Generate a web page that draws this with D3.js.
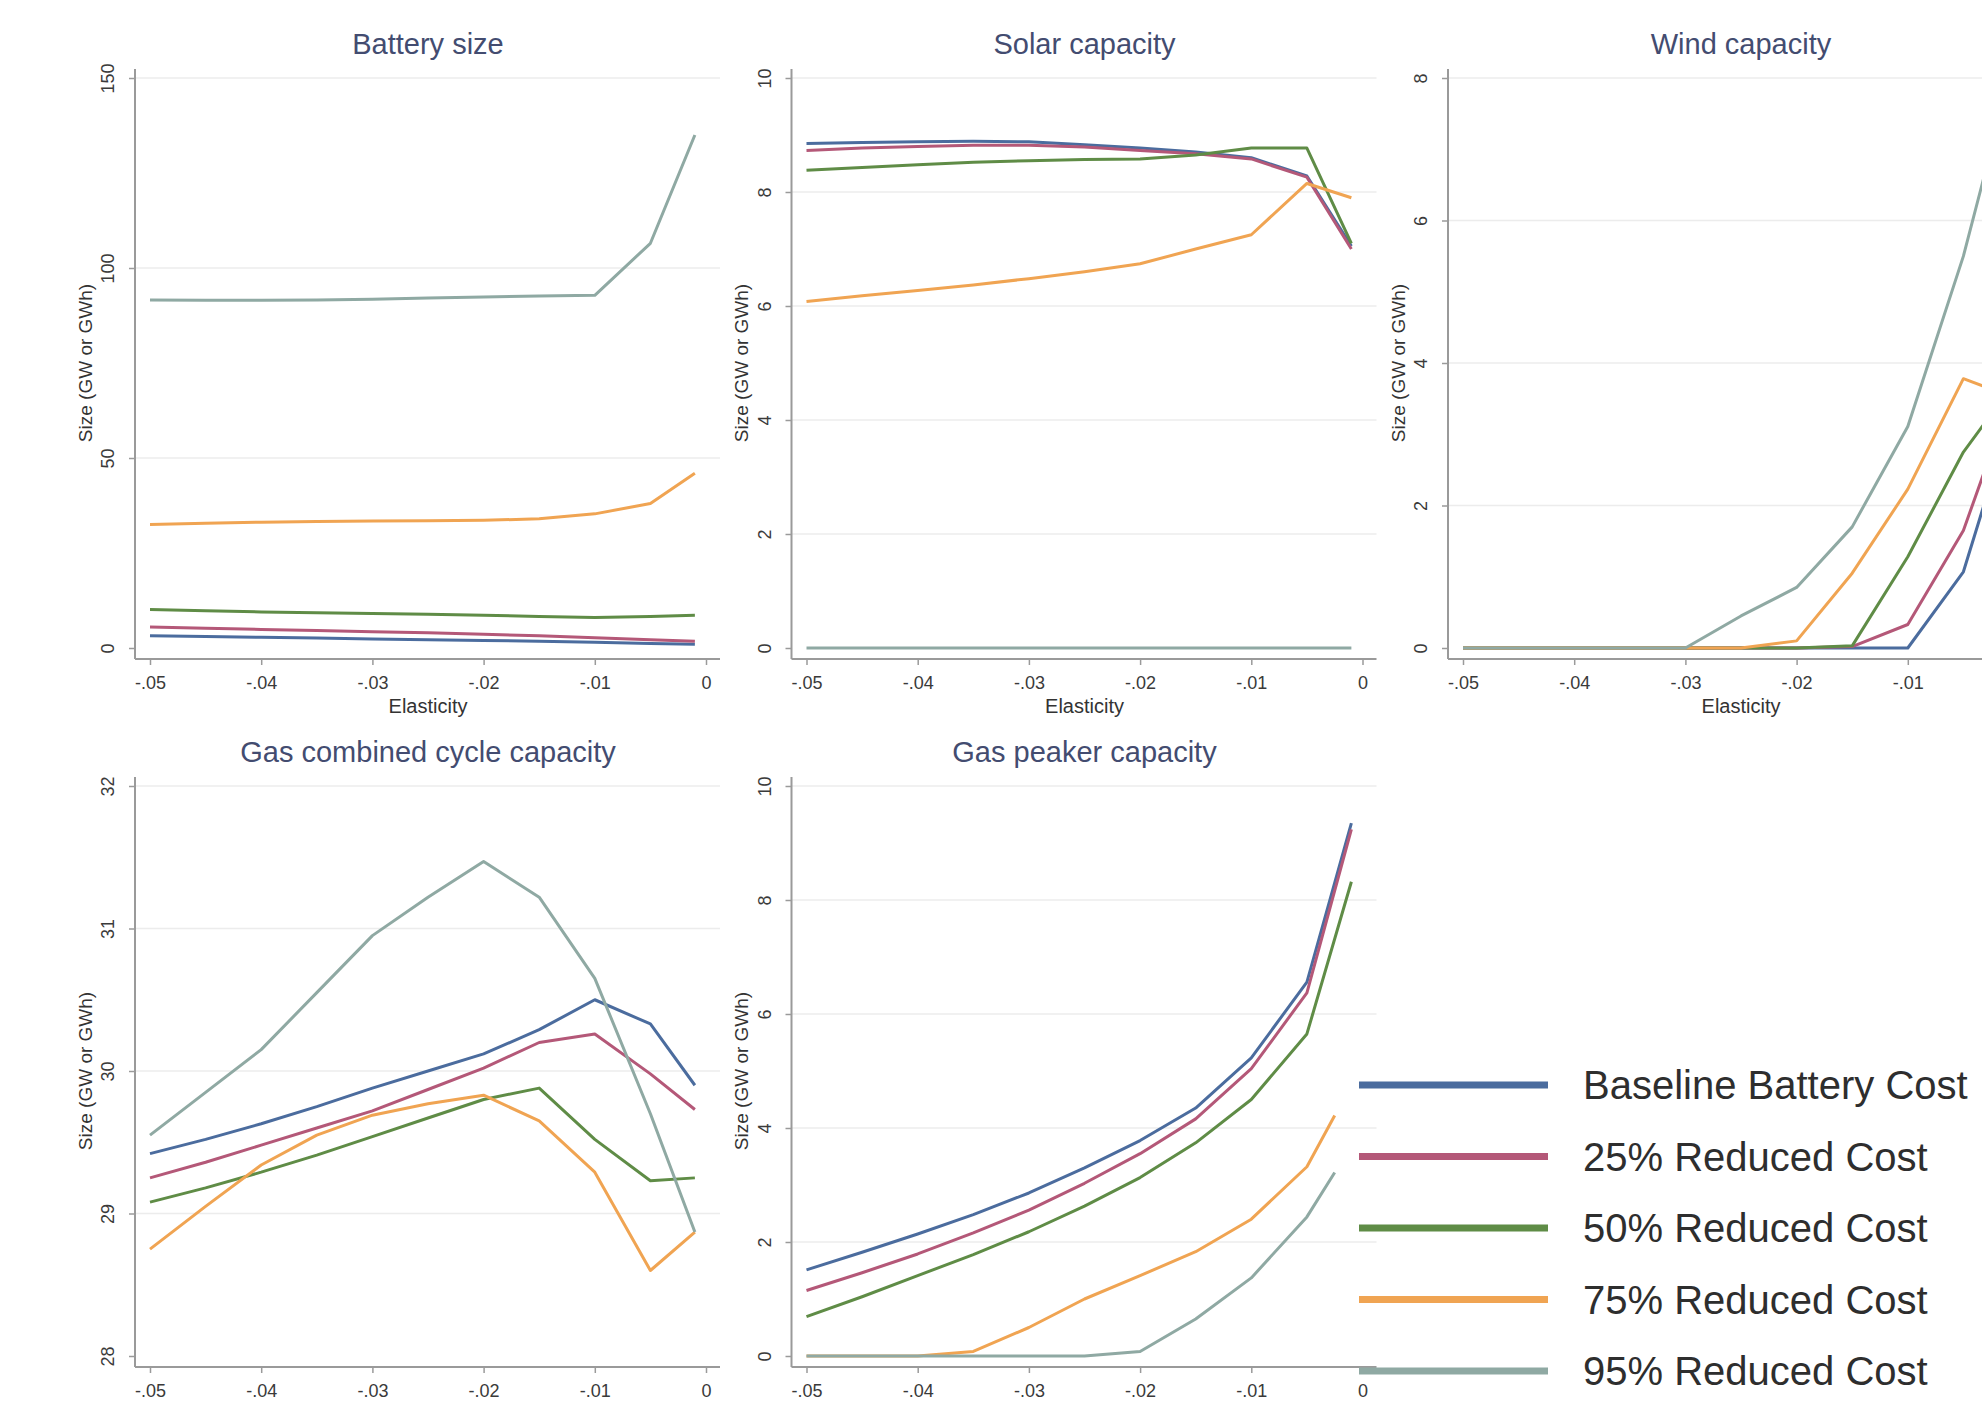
<!DOCTYPE html>
<html>
<head>
<meta charset="utf-8">
<script src="https://cdn.jsdelivr.net/npm/d3@7"></script>
<style>
  body { margin: 0; background: #fff; }
  svg { display: block; }
  text { font-family: "Liberation Sans", Arial, sans-serif; }
</style>
</head>
<body>
<svg id="chart"></svg>
<script>
// elasticity values used on the x axis of every panel
let elasticity = [-0.05, -0.045, -0.04, -0.035, -0.03, -0.025, -0.02, -0.015, -0.01, -0.005, -0.001];
// the 75% and 95% peaker runs stop a bit earlier
let elasticityShort = [-0.05, -0.045, -0.04, -0.035, -0.03, -0.025, -0.02, -0.015, -0.01, -0.005, -0.0025];

let seriesNames = ['Baseline Battery Cost', '25% Reduced Cost', '50% Reduced Cost', '75% Reduced Cost', '95% Reduced Cost'];
let seriesColors = ['#4b6c9e', '#b45878', '#5f8c46', '#f0a452', '#8fa9a3'];

let xTicks = [-0.05, -0.04, -0.03, -0.02, -0.01, 0];
let xTickLabels = ['-.05', '-.04', '-.03', '-.02', '-.01', '0'];

// values, one row per series (baseline, 25%, 50%, 75%, 95%)
let batterySize = [
  [3.2, 3.0, 2.8, 2.6, 2.4, 2.2, 2.0, 1.8, 1.5, 1.2, 1.0],
  [5.5, 5.2, 4.9, 4.6, 4.3, 4.0, 3.6, 3.2, 2.7, 2.2, 1.8],
  [10.1, 9.8, 9.5, 9.3, 9.1, 8.9, 8.6, 8.3, 8.0, 8.3, 8.6],
  [32.5, 32.8, 33.1, 33.3, 33.4, 33.5, 33.6, 34.0, 35.3, 38.0, 46.0],
  [91.6, 91.5, 91.5, 91.6, 91.8, 92.1, 92.4, 92.6, 92.8, 106.5, 135.0]
];
let solarCapacity = [
  [8.85, 8.87, 8.88, 8.89, 8.88, 8.83, 8.77, 8.70, 8.60, 8.28, 7.05],
  [8.73, 8.77, 8.80, 8.82, 8.82, 8.79, 8.73, 8.67, 8.58, 8.26, 7.0],
  [8.38, 8.43, 8.48, 8.52, 8.55, 8.57, 8.58, 8.65, 8.77, 8.77, 7.1],
  [6.08, 6.18, 6.27, 6.37, 6.48, 6.6, 6.74, 7.0, 7.25, 8.15, 7.9],
  [0, 0, 0, 0, 0, 0, 0, 0, 0, 0, 0]
];
let windCapacity = [
  [0, 0, 0, 0, 0, 0, 0, 0, 0, 1.07, 3.1],
  [0, 0, 0, 0, 0, 0, 0, 0.02, 0.33, 1.65, 3.4],
  [0, 0, 0, 0, 0, 0, 0, 0.03, 1.28, 2.75, 3.6],
  [0, 0, 0, 0, 0, 0, 0.1, 1.05, 2.23, 3.78, 3.55],
  [0, 0, 0, 0, 0, 0.45, 0.85, 1.7, 3.11, 5.5, 7.9]
];
let gasCombinedCycle = [
  [29.42, 29.52, 29.63, 29.75, 29.88, 30.0, 30.12, 30.29, 30.5, 30.33, 29.9],
  [29.25, 29.36, 29.48, 29.6, 29.72, 29.87, 30.02, 30.2, 30.26, 29.98, 29.73],
  [29.08, 29.18, 29.29, 29.41, 29.54, 29.67, 29.8, 29.88, 29.52, 29.23, 29.25],
  [28.75, 29.05, 29.34, 29.55, 29.69, 29.77, 29.83, 29.65, 29.29, 28.6, 28.87],
  [29.55, 29.85, 30.15, 30.55, 30.95, 31.22, 31.47, 31.22, 30.65, 29.7, 28.87]
];
let gasPeaker = [
  [1.51, 1.82, 2.14, 2.48, 2.86, 3.3, 3.78, 4.35, 5.23, 6.56, 9.35],
  [1.15, 1.46, 1.79, 2.16, 2.56, 3.03, 3.55, 4.16, 5.04, 6.37, 9.24],
  [0.69, 1.04, 1.41, 1.78, 2.18, 2.63, 3.13, 3.74, 4.5, 5.65, 8.32],
  [0, 0, 0, 0.08, 0.5, 1.0, 1.41, 1.83, 2.4, 3.32, 4.22],
  [0, 0, 0, 0, 0, 0, 0.08, 0.65, 1.37, 2.44, 3.22]
];

let batteryTicks = [0, 50, 100, 150];
let solarTicks = [0, 2, 4, 6, 8, 10];
let windTicks = [0, 2, 4, 6, 8];
let gasCCTicks = [28, 29, 30, 31, 32];
let peakerTicks = [0, 2, 4, 6, 8, 10];

// layout (Stata style graph combine, 3 columns, cropped on the right and bottom)
let config = { svg: {}, cell: {}, plot: {} };
config.svg.width = 1982;
config.svg.height = 1405;
config.cell.x0 = 135;      // y axis line of first column
config.cell.y0 = 78;       // top tick of first row
config.cell.dx = 656.5;
config.cell.dy = 708;
config.plot.width = 585;
config.plot.height = 570;  // top tick to bottom tick
config.plot.xStart = 15;
config.plot.xEnd = 571;

let panels = [
  { title: 'Battery size', values: batterySize, ticks: batteryTicks, col: 0, row: 0 },
  { title: 'Solar capacity', values: solarCapacity, ticks: solarTicks, col: 1, row: 0 },
  { title: 'Wind capacity', values: windCapacity, ticks: windTicks, col: 2, row: 0 },
  { title: 'Gas combined cycle capacity', values: gasCombinedCycle, ticks: gasCCTicks, col: 0, row: 1 },
  { title: 'Gas peaker capacity', values: gasPeaker, ticks: peakerTicks, col: 1, row: 1, shortFrom: 3 }
];

function translate(x, y) {
  return 'translate(' + x + ',' + y + ')';
}

let svg = d3.select('#chart')
  .attr('width', config.svg.width)
  .attr('height', config.svg.height);

svg.append('rect')
  .attr('width', config.svg.width)
  .attr('height', config.svg.height)
  .attr('fill', '#ffffff');

panels.forEach(drawPanel);
drawLegend();

function drawPanel(p) {
  let w = config.plot.width;
  let h = config.plot.height;
  let left = config.cell.x0 + p.col * config.cell.dx;
  let g = svg.append('g')
    .attr('transform', translate(left, config.cell.y0 + p.row * config.cell.dy));

  let x = d3.scaleLinear().domain([-0.05, 0]).range([config.plot.xStart, config.plot.xEnd]);
  let y = d3.scaleLinear().domain(d3.extent(p.ticks)).range([h, 0]);

  // grid lines
  g.append('g')
    .selectAll('line')
    .data(p.ticks.slice(1))
    .enter().append('line')
    .attr('x1', 0).attr('x2', w)
    .attr('y1', d => y(d)).attr('y2', d => y(d))
    .attr('stroke', '#ececec')
    .attr('stroke-width', 1.5);

  // axis lines span the whole plot region
  let axisColor = '#9a9a9a';
  g.append('line')
    .attr('x1', 0).attr('x2', 0)
    .attr('y1', -9).attr('y2', h + 11)
    .attr('stroke', axisColor).attr('stroke-width', 2);
  g.append('line')
    .attr('x1', 0).attr('x2', w)
    .attr('y1', h + 11).attr('y2', h + 11)
    .attr('stroke', axisColor).attr('stroke-width', 2);

  // y axis ticks, labels rotated like Stata
  let yAxis = d3.axisLeft(y).tickValues(p.ticks).tickSize(6).tickSizeOuter(0).tickFormat(d3.format('d'));
  let yGroup = g.append('g').call(yAxis);
  yGroup.select('.domain').remove();
  yGroup.selectAll('line').attr('stroke', axisColor).attr('stroke-width', 1.5);
  yGroup.selectAll('text')
    .attr('x', null).attr('dy', null)
    .attr('transform', 'translate(-27,0) rotate(-90)')
    .attr('text-anchor', 'middle')
    .attr('dominant-baseline', 'central')
    .attr('fill', '#3a3a3a')
    .style('font-size', '18px');

  // x axis ticks (skip the ones that fall past the right edge of the picture)
  let visibleTicks = xTicks.filter(t => left + x(t) + 12 < config.svg.width);
  let xAxis = d3.axisBottom(x).tickValues(visibleTicks).tickSize(6).tickSizeOuter(0)
    .tickFormat(d => xTickLabels[xTicks.indexOf(d)]);
  let xGroup = g.append('g').attr('transform', translate(0, h + 11)).call(xAxis);
  xGroup.select('.domain').remove();
  xGroup.selectAll('line').attr('stroke', axisColor).attr('stroke-width', 1.5);
  xGroup.selectAll('text')
    .attr('y', 24).attr('dy', '0.35em')
    .attr('fill', '#3a3a3a')
    .style('font-size', '18px');

  // axis titles
  g.append('text')
    .attr('transform', translate(-50, h / 2) + ' rotate(-90)')
    .attr('text-anchor', 'middle')
    .attr('dominant-baseline', 'central')
    .attr('fill', '#333')
    .style('font-size', '19px')
    .text('Size (GW or GWh)');

  g.append('text')
    .attr('x', (config.plot.xStart + config.plot.xEnd) / 2)
    .attr('y', h + 58)
    .attr('text-anchor', 'middle')
    .attr('dominant-baseline', 'central')
    .attr('fill', '#333')
    .style('font-size', '20px')
    .text('Elasticity');

  // panel title
  g.append('text')
    .attr('x', 293)
    .attr('y', -34)
    .attr('text-anchor', 'middle')
    .attr('dominant-baseline', 'central')
    .attr('fill', '#434c70')
    .style('font-size', '29px')
    .text(p.title);

  // series lines
  let line = d3.line()
    .x(d => x(d.x))
    .y(d => y(d.y));

  p.values.forEach((vals, i) => {
    let xs = (p.shortFrom !== undefined && i >= p.shortFrom) ? elasticityShort : elasticity;
    let pts = vals.map((v, k) => ({ x: xs[k], y: v }));
    g.append('path')
      .datum(pts)
      .attr('d', line)
      .attr('fill', 'none')
      .attr('stroke', seriesColors[i])
      .attr('stroke-width', 3)
      .attr('stroke-linejoin', 'round');
  });
}

function drawLegend() {
  let lg = svg.append('g').attr('transform', translate(1359, 1085));
  let items = lg.selectAll('g')
    .data(seriesNames)
    .enter().append('g')
    .attr('transform', (d, i) => translate(0, i * 71.5));

  items.append('line')
    .attr('x1', 0).attr('x2', 189)
    .attr('y1', 0).attr('y2', 0)
    .attr('stroke', (d, i) => seriesColors[i])
    .attr('stroke-width', 7);

  items.append('text')
    .attr('x', 224)
    .attr('y', 0)
    .attr('dominant-baseline', 'central')
    .attr('fill', '#2e2e2e')
    .style('font-size', '40px')
    .text(d => d);
}
</script>
</body>
</html>
